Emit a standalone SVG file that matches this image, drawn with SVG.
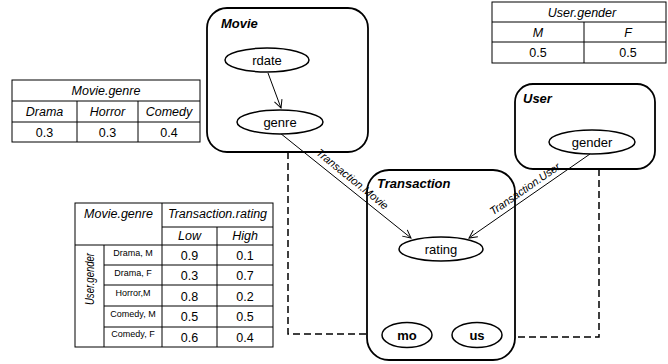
<svg xmlns="http://www.w3.org/2000/svg" width="668" height="364" viewBox="0 0 668 364">
<style>
text{font-family:"Liberation Sans",Arial,sans-serif;fill:#000}
.box{fill:#fff;stroke:#000;stroke-width:1.8}
.ell{fill:#fff;stroke:#000;stroke-width:1.5}
.title{font-size:13px;font-weight:bold;font-style:italic}
.lbl{font-size:13px;text-anchor:middle}
.blbl{font-size:13px;font-weight:bold;text-anchor:middle}
.edge{fill:none;stroke:#000;stroke-width:1}
.dash{fill:none;stroke:#000;stroke-width:1.5;stroke-dasharray:7,4}
.elbl{font-size:11px;font-style:italic;text-anchor:middle}
.tb{fill:none;stroke:#000;stroke-width:1}
.th{font-size:12.5px;font-style:italic;text-anchor:middle}
.tv{font-size:12.5px;text-anchor:middle}
.ts{font-size:9px;text-anchor:middle}
</style>
<defs>
<marker id="arr" markerWidth="10" markerHeight="10" refX="9" refY="5" orient="auto" markerUnits="userSpaceOnUse">
<path d="M1,1 L9,5 L1,9" fill="none" stroke="#000" stroke-width="1"/>
</marker>
</defs>

<g id="connectors">
<path class="dash" d="M288,152 V334 H367"/>
<path class="dash" d="M599,169 V337 H515"/>
</g>

<g id="movie">
<rect class="box" x="207" y="8" width="161" height="144" rx="20"/>
<text class="title" x="221" y="28">Movie</text>
</g>
<g id="user">
<rect class="box" x="515" y="84" width="140" height="85" rx="18"/>
<text class="title" x="523" y="103">User</text>
</g>
<g id="transaction">
<rect class="box" x="367" y="170" width="148" height="190" rx="22"/>
<text class="title" x="377" y="188">Transaction</text>
</g>

<g id="connectors-edges">
<line class="edge" x1="268" y1="73" x2="281" y2="108" marker-end="url(#arr)"/>
<line class="edge" x1="280" y1="133" x2="411" y2="238" marker-end="url(#arr)"/>
<line class="edge" x1="590" y1="154" x2="469" y2="238" marker-end="url(#arr)"/>
<text class="elbl" transform="translate(350,182) rotate(39)">Transaction.Movie</text>
<text class="elbl" transform="translate(527,192) rotate(-34.7)">Transaction.User</text>
</g>

<g id="rdate">
<ellipse class="ell" cx="267" cy="60" rx="42" ry="12"/>
<text class="lbl" x="267" y="64.5">rdate</text>
</g>
<g id="genre">
<ellipse class="ell" cx="280" cy="122" rx="43" ry="12"/>
<text class="lbl" x="280" y="126.5">genre</text>
</g>
<g id="gender">
<ellipse class="ell" cx="592" cy="142" rx="43" ry="12"/>
<text class="lbl" x="592" y="146.5">gender</text>
</g>
<g id="rating">
<ellipse class="ell" cx="441" cy="249" rx="42" ry="12"/>
<text class="lbl" x="441" y="253.5">rating</text>
</g>
<g id="mo">
<ellipse class="ell" cx="407" cy="335" rx="25" ry="12.5"/>
<text class="blbl" x="407" y="339.5">mo</text>
</g>
<g id="us">
<ellipse class="ell" cx="477" cy="335" rx="25" ry="12.5"/>
<text class="blbl" x="477" y="339.5">us</text>
</g>

<g id="table-movie-genre">
<rect class="tb" x="12" y="80" width="188" height="62"/>
<path class="tb" d="M12,101 H200 M12,122 H200 M77,101 V142 M138,101 V142"/>
<text class="th" x="106" y="95">Movie.genre</text>
<text class="th" x="44.5" y="116">Drama</text>
<text class="th" x="107.5" y="116">Horror</text>
<text class="th" x="169" y="116">Comedy</text>
<text class="tv" x="44.5" y="137">0.3</text>
<text class="tv" x="107.5" y="137">0.3</text>
<text class="tv" x="169" y="137">0.4</text>
</g>

<g id="table-user-gender">
<rect class="tb" x="492" y="2" width="174" height="61"/>
<path class="tb" d="M492,22 H666 M492,42 H666 M584,22 V63"/>
<text class="th" x="582" y="17">User.gender</text>
<text class="th" x="538" y="37">M</text>
<text class="th" x="628" y="37">F</text>
<text class="tv" x="538" y="57">0.5</text>
<text class="tv" x="628" y="57">0.5</text>
</g>

<g id="table-rating">
<rect class="tb" x="75" y="203" width="198" height="144"/>
<path class="tb" d="M162,227 H273 M75,245 H273 M104,265 H273 M104,285 H273 M104,306 H273 M104,327 H273 M104,245 V347 M162,203 V347 M217,227 V347"/>
<text class="th" x="118.5" y="218">Movie.genre</text>
<text class="th" x="217.5" y="218">Transaction.rating</text>
<text class="th" x="189.5" y="240">Low</text>
<text class="th" x="245" y="240">High</text>
<text class="th" style="font-size:13.5px" transform="translate(94,279) rotate(-90)" textLength="52" lengthAdjust="spacingAndGlyphs">User.gender</text>
<text class="ts" x="133" y="255.5">Drama, M</text>
<text class="ts" x="133" y="275.5">Drama, F</text>
<text class="ts" x="133" y="296">Horror,M</text>
<text class="ts" x="133" y="316.5">Comedy, M</text>
<text class="ts" x="133" y="337">Comedy, F</text>
<text class="tv" x="189.5" y="260">0.9</text>
<text class="tv" x="245" y="260">0.1</text>
<text class="tv" x="189.5" y="280">0.3</text>
<text class="tv" x="245" y="280">0.7</text>
<text class="tv" x="189.5" y="300.5">0.8</text>
<text class="tv" x="245" y="300.5">0.2</text>
<text class="tv" x="189.5" y="321">0.5</text>
<text class="tv" x="245" y="321">0.5</text>
<text class="tv" x="189.5" y="341.5">0.6</text>
<text class="tv" x="245" y="341.5">0.4</text>
</g>
</svg>
